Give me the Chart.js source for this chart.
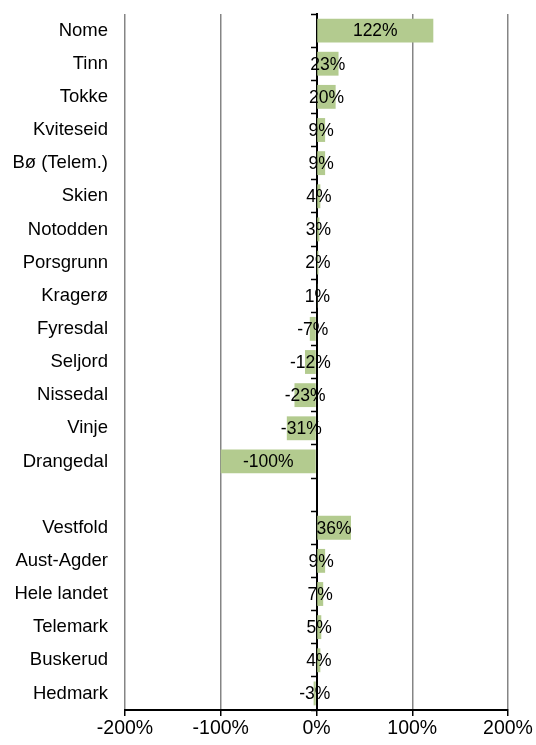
<!DOCTYPE html>
<html><head><meta charset="utf-8">
<script src="https://cdn.jsdelivr.net/npm/chart.js@4/dist/chart.umd.min.js"></script>
<style>html,body{margin:0;padding:0;background:#fff}</style>
</head><body>
<canvas id="c" width="536" height="745"></canvas>
<script>
const categories = ["Nome","Tinn","Tokke","Kviteseid","Bø (Telem.)","Skien","Notodden","Porsgrunn","Kragerø","Fyresdal","Seljord","Nissedal","Vinje","Drangedal","","Vestfold","Aust-Agder","Hele landet","Telemark","Buskerud","Hedmark"];
const values = [122,23,20,9,9,4,3,2,1,-7,-12,-23,-31,-100,null,36,9,7,5,4,-3];
const xTicks = [-200,-100,0,100,200];

const FONT = '"Liberation Sans", Arial, sans-serif';
Chart.defaults.font.family = FONT;
Chart.defaults.color = '#000';

const labelPlugin = {
  id: 'barLabels',
  afterDraw(chart) {
    const ctx = chart.ctx;
    const meta = chart.getDatasetMeta(0);
    ctx.save();
    ctx.font = '17.5px ' + FONT;
    ctx.fillStyle = '#000';
    ctx.textAlign = 'center';
    ctx.textBaseline = 'middle';
    meta.data.forEach((el, i) => {
      const v = values[i];
      if (v === null) return;
      ctx.fillText(v + '%', (el.x + el.base) / 2, el.y + 1);
    });
    ctx.restore();
  }
};

new Chart(document.getElementById('c'), {
  type: 'bar',
  data: {
    labels: categories,
    datasets: [{
      data: values,
      backgroundColor: 'rgb(179,203,143)',
      borderWidth: 0,
      barPercentage: 0.72,
      categoryPercentage: 1
    }]
  },
  options: {
    indexAxis: 'y',
    responsive: false,
    devicePixelRatio: 1,
    animation: false,
    layout: { padding: { top: 14, right: 28, left: 0, bottom: 0 } },
    plugins: { legend: { display: false }, tooltip: { enabled: false } },
    scales: {
      x: {
        type: 'linear',
        min: -200, max: 200,
        afterBuildTicks: s => { s.ticks = xTicks.map(v => ({ value: v })); },
        afterFit: s => { s.height = 35; },
        ticks: { callback: v => v + '%', font: { size: 19.5 }, color: '#000', padding: 1, maxRotation: 0 },
        grid: {
          color: c => (c.tick && c.tick.value === 0) ? 'rgba(0,0,0,0)' : '#858585',
          lineWidth: 1.5,
          tickColor: '#000',
          tickWidth: 1.5,
          tickLength: 6
        },
        border: { color: '#000', width: 2 }
      },
      y: {
        type: 'category',
        position: 'left',
        afterFit: s => { s.width = 125; s.paddingTop = 0; s.paddingBottom = 0; },
        grid: { display: false, drawTicks: false },
        border: { display: false },
        ticks: { autoSkip: false, font: { size: 18.5 }, color: '#000', padding: 17 }
      },
      y2: {
        type: 'category',
        axis: 'y',
        labels: categories,
        position: { x: 0 },
        offset: true,
        z: 1,
        afterFit: s => { s.paddingTop = 0; s.paddingBottom = 0; },
        grid: { offset: true, drawOnChartArea: false, tickLength: 5, tickColor: '#000', tickWidth: 1.5 },
        border: { color: '#000', width: 2 },
        ticks: { display: false }
      }
    }
  },
  plugins: [labelPlugin]
});
</script>
</body></html>
